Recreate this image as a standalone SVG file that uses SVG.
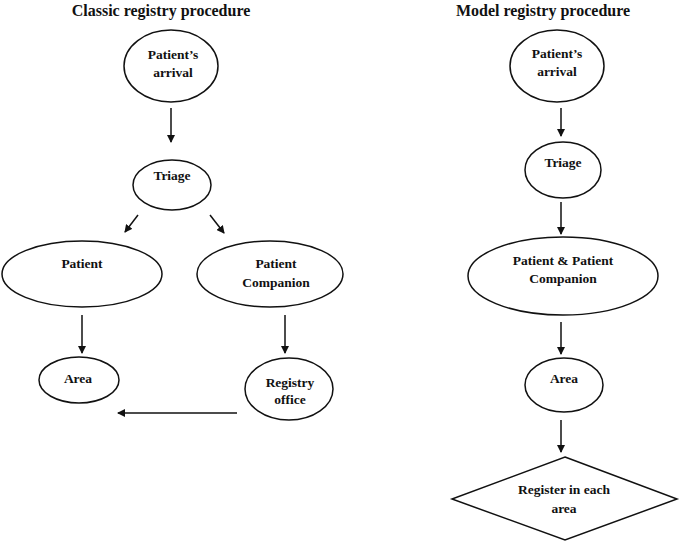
<svg xmlns="http://www.w3.org/2000/svg" width="681" height="545" viewBox="0 0 681 545">
<style>
.n{fill:#fff;stroke:#111;stroke-width:1.5}
.t{font-family:"Liberation Serif","Times New Roman",serif;font-weight:bold;font-size:13.5px;fill:#111;text-anchor:middle}
.h{font-family:"Liberation Serif","Times New Roman",serif;font-weight:bold;font-size:16px;fill:#111;text-anchor:middle}
.c{stroke:#111;stroke-width:1.5;fill:none;marker-end:url(#ah)}
</style>
<defs>
<marker id="ah" markerWidth="8" markerHeight="8" refX="7" refY="4" orient="auto" markerUnits="userSpaceOnUse">
<path d="M0,0 L8,4 L0,8 Z" fill="#111"/>
</marker>
</defs>
<rect width="681" height="545" fill="#fff"/>
<text class="h" x="161" y="16">Classic registry procedure</text>
<text class="h" x="543" y="16">Model registry procedure</text>
<g id="connectors">
<line class="c" x1="171" y1="108" x2="171" y2="142"/>
<line class="c" x1="138" y1="215" x2="125" y2="232"/>
<line class="c" x1="210" y1="215" x2="224" y2="233"/>
<line class="c" x1="82" y1="315" x2="82" y2="353"/>
<line class="c" x1="285" y1="315" x2="285" y2="353"/>
<line class="c" x1="237" y1="413" x2="118" y2="413"/>
<line class="c" x1="561" y1="108" x2="561" y2="136"/>
<line class="c" x1="561" y1="202" x2="561" y2="234"/>
<line class="c" x1="561" y1="322" x2="561" y2="354"/>
<line class="c" x1="561" y1="420" x2="561" y2="452"/>
</g>
<g id="c-arrival">
<ellipse class="n" cx="171" cy="66" rx="47" ry="36"/>
<text class="t" x="173" y="59">Patient’s</text>
<text class="t" x="173" y="77">arrival</text>
</g>
<g id="c-triage">
<ellipse class="n" cx="172" cy="185" rx="39" ry="25"/>
<text class="t" x="172" y="180">Triage</text>
</g>
<g id="c-patient">
<ellipse class="n" cx="82" cy="274" rx="80" ry="33"/>
<text class="t" x="82" y="268">Patient</text>
</g>
<g id="c-companion">
<ellipse class="n" cx="270" cy="274" rx="73" ry="33"/>
<text class="t" x="276" y="268">Patient</text>
<text class="t" x="276" y="287">Companion</text>
</g>
<g id="c-area">
<ellipse class="n" cx="79" cy="380" rx="40" ry="23"/>
<text class="t" x="78" y="383">Area</text>
</g>
<g id="c-registry">
<ellipse class="n" cx="289" cy="389" rx="44" ry="31"/>
<text class="t" x="290" y="387">Registry</text>
<text class="t" x="290" y="404">office</text>
</g>
<g id="m-arrival">
<ellipse class="n" cx="557" cy="66" rx="47" ry="36"/>
<text class="t" x="557" y="58">Patient’s</text>
<text class="t" x="557" y="76">arrival</text>
</g>
<g id="m-triage">
<ellipse class="n" cx="563" cy="170" rx="38" ry="28"/>
<text class="t" x="563" y="167">Triage</text>
</g>
<g id="m-both">
<ellipse class="n" cx="563" cy="276" rx="95" ry="39"/>
<text class="t" x="563" y="265">Patient &amp; Patient</text>
<text class="t" x="563" y="283">Companion</text>
</g>
<g id="m-area">
<ellipse class="n" cx="564" cy="385" rx="39" ry="27"/>
<text class="t" x="564" y="383">Area</text>
</g>
<g id="m-register">
<polygon class="n" points="565,457 677,499 565,540 452,499"/>
<text class="t" x="564" y="494">Register in each</text>
<text class="t" x="564" y="513">area</text>
</g>
</svg>
